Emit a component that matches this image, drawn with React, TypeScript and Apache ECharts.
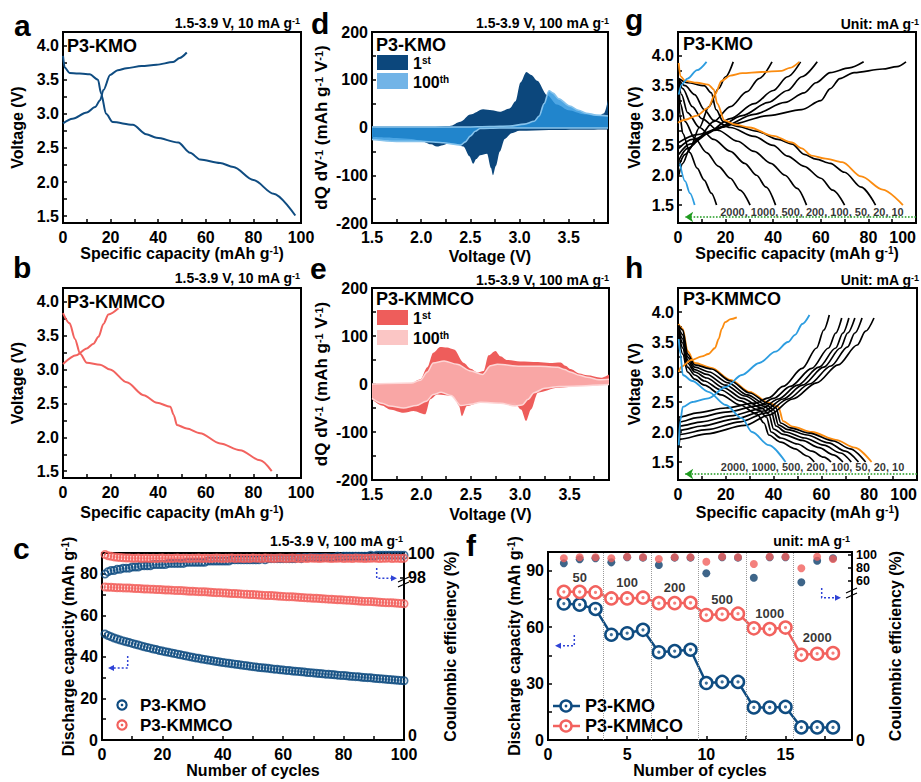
import React, { useEffect, useRef } from 'react';
import * as echarts from 'echarts';

const FONT = '"Liberation Sans", Arial, Helvetica, sans-serif';
const NAVY = '#0f4c81';
const RED = '#f2625e';
const ORANGE = '#fb8c10';
const SKY = '#2d9de0';
const GREEN = '#1f9a1f';
const ARROW_BLUE = '#2f43d6';

// ---------------- Panel a / b : first cycle profiles [capacity, voltage]
const aCharge = [[0,2.86],[4,2.93],[10,3.02],[13.5,3.1],[15.6,3.2],[17,3.35],[19.8,3.57],[23,3.64],[26.7,3.67],[33,3.7],[39.3,3.72],[46.3,3.76],[49,3.82],[52,3.9]];
const aDischarge = [[0,3.85],[0.7,3.68],[2.8,3.6],[11.2,3.58],[14.7,3.5],[16,3.3],[18.1,3.0],[20.9,2.88],[29.3,2.84],[35,2.7],[39.3,2.65],[48.4,2.58],[53.4,2.43],[57.6,2.33],[66,2.28],[71.6,2.22],[80,2.03],[88.5,1.83],[97.6,1.51]];
const bCharge = [[0,3.08],[5.6,3.21],[10,3.31],[12.8,3.38],[14.9,3.48],[17,3.67],[19.1,3.81],[23.3,3.9]];
const bDischarge = [[0,3.83],[2.8,3.68],[5,3.45],[7.2,3.23],[10,3.1],[15.6,3.07],[19.8,3.0],[26.8,2.81],[33.9,2.62],[39.5,2.51],[45.1,2.45],[46.5,2.33],[47.9,2.18],[52,2.13],[57.6,2.06],[66,1.91],[74.4,1.81],[82.8,1.66],[87.7,1.5]];

// ---------------- Panel c : cycling at 100 mA/g (cycle 1..100)
const cKMOCap = [51.0,50.3,49.7,49.1,48.6,48.1,47.7,47.3,46.9,46.5,46.1,45.7,45.3,44.9,44.5,44.2,43.8,43.5,43.1,42.8,42.5,42.2,41.9,41.6,41.3,41.0,40.7,40.4,40.1,39.8,39.5,39.3,39.0,38.8,38.5,38.3,38.0,37.8,37.5,37.3,37.1,36.9,36.7,36.5,36.3,36.1,35.9,35.7,35.5,35.3,35.1,34.9,34.8,34.6,34.5,34.3,34.1,34.0,33.8,33.7,33.5,33.4,33.2,33.1,33.0,32.8,32.7,32.5,32.4,32.3,32.1,32.0,31.9,31.7,31.6,31.5,31.4,31.2,31.1,31.0,30.9,30.7,30.6,30.5,30.4,30.2,30.1,30.0,29.9,29.7,29.6,29.5,29.4,29.2,29.1,29.0,28.9,28.7,28.6,28.5];
const cKMMCOCap = [73.6,73.5,73.5,73.4,73.3,73.3,73.2,73.1,73.1,73.0,72.9,72.9,72.8,72.7,72.7,72.6,72.5,72.4,72.4,72.3,72.2,72.2,72.1,72.0,71.9,71.9,71.8,71.7,71.6,71.6,71.5,71.4,71.3,71.3,71.2,71.1,71.0,70.9,70.9,70.8,70.7,70.6,70.5,70.5,70.4,70.3,70.2,70.1,70.0,70.0,69.9,69.8,69.7,69.6,69.5,69.5,69.4,69.3,69.2,69.1,69.0,68.9,68.9,68.8,68.7,68.6,68.5,68.4,68.3,68.2,68.2,68.1,68.0,67.9,67.8,67.7,67.6,67.5,67.5,67.4,67.3,67.2,67.1,67.0,66.9,66.8,66.7,66.7,66.6,66.5,66.4,66.3,66.2,66.1,66.0,66.0,65.9,65.8,65.7,65.6];
const cKMOCE = [98.3,98.5,98.6,98.6,98.7,98.7,98.8,98.8,98.8,98.9,98.9,98.9,99.0,99.0,99.0,99.0,99.1,99.1,99.1,99.1,99.1,99.2,99.2,99.2,99.2,99.2,99.2,99.3,99.3,99.3,99.3,99.3,99.3,99.3,99.4,99.4,99.4,99.4,99.4,99.4,99.4,99.4,99.5,99.5,99.5,99.5,99.5,99.5,99.5,99.5,99.5,99.5,99.6,99.5,99.6,99.6,99.6,99.6,99.6,99.6,99.6,99.6,99.6,99.6,99.7,99.6,99.7,99.7,99.7,99.7,99.7,99.7,99.7,99.7,99.7,99.7,99.7,99.8,99.7,99.8,99.8,99.8,99.8,99.8,99.8,99.8,99.8,99.8,99.9,99.8,99.9,99.9,99.9,99.9,99.9,99.9,99.9,99.9,99.9,99.9];
const cKMMCOCE = [99.95,99.85,99.8,99.75,99.72,99.7,99.68,99.66,99.65,99.64,99.63,99.65,99.62,99.64,99.63,99.61,99.64,99.62,99.63,99.65,99.62,99.64,99.61,99.63,99.65,99.62,99.64,99.63,99.61,99.64,99.63,99.65,99.62,99.64,99.63,99.62,99.64,99.65,99.63,99.62,99.64,99.63,99.65,99.62,99.64,99.63,99.61,99.64,99.62,99.65,99.63,99.64,99.62,99.65,99.63,99.64,99.62,99.63,99.65,99.64,99.62,99.63,99.65,99.64,99.62,99.63,99.64,99.62,99.65,99.63,99.64,99.62,99.63,99.65,99.64,99.62,99.63,99.64,99.65,99.62,99.63,99.64,99.62,99.65,99.63,99.64,99.62,99.63,99.64,99.65,99.63,99.62,99.64,99.63,99.65,99.62,99.64,99.63,99.62,99.64];

// ---------------- Panel d / e : dQ/dV [voltage, dQ/dV]
const d1stPos = [[1.5,2],[1.8,2],[2.1,2],[2.29,3],[2.4,12],[2.5,27],[2.63,38],[2.72,36],[2.8,33],[2.9,40],[2.96,55],[3.01,94],[3.07,116],[3.12,110],[3.18,98],[3.28,68],[3.38,48],[3.5,36],[3.65,28],[3.8,24],[3.86,30],[3.9,58]];
const d1stNeg = [[1.5,-20],[1.75,-22],[1.9,-24],[1.99,-27],[2.1,-35],[2.16,-40],[2.22,-37],[2.29,-32],[2.36,-34],[2.43,-40],[2.49,-60],[2.53,-76],[2.56,-66],[2.6,-58],[2.67,-55],[2.71,-85],[2.73,-100],[2.76,-80],[2.8,-50],[2.85,-24],[2.92,-12],[3.0,-7],[3.3,-5],[3.9,-4]];
const d100Pos = [[1.5,1],[2.0,1],[2.45,1],[2.7,2],[2.9,3],[3.05,7],[3.15,13],[3.2,24],[3.25,50],[3.3,77],[3.34,72],[3.4,60],[3.51,45],[3.6,36],[3.68,30],[3.78,26],[3.9,24]];
const d100Neg = [[1.5,-25],[1.75,-29],[2.0,-29],[2.15,-31],[2.23,-32],[2.33,-35],[2.4,-37],[2.45,-30],[2.5,-18],[2.55,-8],[2.6,-2],[2.8,-1],[3.9,-1]];
const e1stPos = [[1.5,0],[1.89,1],[1.99,10],[2.06,35],[2.12,65],[2.19,77],[2.26,76],[2.33,72],[2.43,44],[2.5,32],[2.57,24],[2.63,27],[2.68,60],[2.75,69],[2.8,58],[2.87,50],[3.0,47],[3.18,46],[3.3,44],[3.41,45],[3.46,38],[3.51,31],[3.6,22],[3.68,18],[3.82,13],[3.9,20]];
const e100Pos = [[1.5,0],[1.9,2],[1.99,8],[2.06,25],[2.12,44],[2.23,48],[2.36,41],[2.5,27],[2.62,20],[2.7,38],[2.77,41],[3.0,37],[3.2,37],[3.38,35],[3.45,30],[3.51,25],[3.6,18],[3.68,14],[3.8,9],[3.9,10]];
const e1stNeg = [[1.5,-32],[1.6,-45],[1.68,-53],[1.82,-60],[1.92,-56],[2.04,-63],[2.09,-32],[2.16,-22],[2.33,-25],[2.38,-45],[2.41,-67],[2.46,-46],[2.6,-38],[2.94,-39],[3.01,-53],[3.06,-77],[3.11,-53],[3.18,-18],[3.38,-8],[3.6,-4],[3.9,-1]];
const e100Neg = [[1.5,-30],[1.6,-40],[1.68,-46],[1.82,-50],[1.95,-45],[2.05,-36],[2.12,-22],[2.2,-17],[2.3,-24],[2.4,-45],[2.5,-42],[2.6,-38],[2.8,-40],[2.95,-46],[3.02,-44],[3.08,-32],[3.14,-18],[3.25,-9],[3.4,-5],[3.9,-1]];

// ---------------- Panel f : rate capability
const fCycles = [1,2,3,4,5,6,7,8,9,10,11,12,13,14,15,16,17,18];
const fKMOCap = [72.6,72.0,69.7,56.0,56.8,58.6,46.7,47.3,48.0,30.3,30.9,30.9,17.3,17.3,17.6,6.7,6.7,6.7];
const fKMMCOCap = [78.8,78.8,78.5,75.3,75.3,75.7,72.8,72.8,73.0,66.5,66.9,67.2,59.4,59.0,59.8,45.3,45.9,46.2];
const fKMOCE = [87.2,93.4,94.9,88.7,96.4,95.9,84.6,95.9,95.9,71.8,96.4,95.9,65.1,96.4,96.4,58.0,91.2,94.9];
const fKMMCOCE = [94.9,96.4,96.4,94.9,97.4,96.4,93.8,96.4,96.4,89.7,97.4,96.4,86.2,97.4,97.4,79.5,97.4,93.8];
const fRateBoundaries = [3.5,6.5,9.5,12.5,15.5];
const fRateNames = ['50','100','200','500','1000','2000'];
const fRateLabelPos = [[2,86.2],[5,83.6],[8,81],[11,74.6],[14,67.2],[17,54.5]];

// ---------------- Panel g : P3-KMO rate profiles [capacity, voltage]
const gOrangeCharge = [[0,2.88],[3,2.93],[8,3.0],[12.7,3.13],[15.5,3.35],[18.3,3.58],[22,3.67],[27,3.71],[35,3.73],[43.6,3.75],[47,3.8],[51,3.9]];
const gOrangeDischarge = [[0.3,3.88],[1,3.66],[3,3.58],[8,3.55],[12.7,3.52],[15,3.44],[16.5,3.2],[19.5,2.92],[24,2.85],[30,2.8],[40,2.66],[47.8,2.55],[52,2.45],[56,2.33],[62,2.28],[69,2.22],[77,1.98],[86,1.76],[94.5,1.5]];
const gBlueCharge = [[0.3,3.35],[1.5,3.52],[4,3.62],[8,3.76],[12,3.9]];
const gBlueDischarge = [[0.8,2.2],[3,1.9],[5,1.7],[7,1.5]];
const gBlackCharge = [
  [[0.3,2.0],[2,2.2],[5,2.45],[9,2.8],[13,3.15],[17,3.45],[20,3.65],[23.2,3.9]],
  [[0.3,2.15],[3,2.35],[8,2.6],[15,2.9],[22,3.15],[29,3.4],[34,3.62],[39.5,3.9]],
  [[0.3,2.25],[4,2.45],[12,2.7],[22,2.95],[32,3.2],[40,3.42],[46,3.65],[51.5,3.9]],
  [[0.3,2.35],[5,2.52],[15,2.75],[27,3.0],[38,3.22],[46,3.42],[52,3.65],[58.5,3.9]],
  [[0.3,2.45],[6,2.6],[18,2.8],[32,3.02],[45,3.22],[53,3.38],[58,3.55],[64,3.72],[72,3.8],[78,3.9]],
  [[0.3,2.55],[8,2.68],[22,2.85],[38,3.0],[52,3.1],[60,3.25],[64,3.45],[68,3.62],[74,3.72],[86,3.78],[92,3.82],[95.8,3.9]],
];
const gBlackDischarge = [
  [[0.2,3.5],[0.8,3.0],[2,2.7],[5,2.38],[8,2.12],[11,1.92],[14,1.7],[16.2,1.5]],
  [[0.2,3.55],[1,3.2],[3,2.9],[7,2.62],[12,2.38],[17,2.15],[22,1.95],[26,1.75],[30.3,1.5]],
  [[0.2,3.58],[1.5,3.35],[4,3.05],[9,2.8],[15,2.6],[22,2.4],[28,2.2],[33,2.0],[37,1.8],[41,1.5]],
  [[0.3,3.6],[2,3.45],[6,3.15],[10,2.95],[17,2.75],[25,2.57],[32,2.4],[39,2.2],[45,2.0],[50,1.78],[54,1.5]],
  [[0.3,3.6],[3,3.5],[7,3.35],[11,3.1],[15,2.92],[22,2.8],[32,2.65],[40,2.5],[46,2.32],[53,2.15],[60,1.95],[65,1.75],[70,1.5]],
  [[0.3,3.62],[4,3.55],[11,3.5],[14,3.38],[16,3.1],[19,2.9],[25,2.82],[33,2.74],[42,2.6],[48,2.52],[53,2.35],[58,2.27],[64,2.2],[70,2.05],[77,1.8],[83,1.5]],
];

// ---------------- Panel h : P3-KMMCO rate profiles
const hOrangeCharge = [[0.3,3.0],[1.4,3.09],[5.6,3.2],[10,3.26],[12.7,3.3],[15.5,3.4],[17,3.55],[18.3,3.72],[19.7,3.83],[22,3.88],[24.6,3.91]];
const hOrangeDischarge = [[0.2,3.8],[2,3.72],[4,3.35],[7,3.15],[14,3.07],[22,2.87],[30,2.67],[38,2.49],[42,2.42],[44,2.18],[48,2.09],[56,2.0],[66,1.87],[74,1.74],[81,1.5]];
const hBlueCharge = [[0.3,1.78],[1,2.2],[2,2.42],[6,2.5],[12.7,2.56],[20,2.75],[26.7,2.95],[34,3.15],[40.8,3.34],[46,3.5],[49,3.62],[52,3.8],[55,3.95]];
const hBlueDischarge = [[0.3,3.55],[1,3.3],[2,2.95],[6,2.85],[12.7,2.67],[20,2.45],[26.7,2.23],[31,2.0],[38,1.78],[45,1.5]];
const hBlackCharge = [
  [[0.3,1.8],[0.8,2.25],[8,2.32],[20,2.4],[32,2.48],[38,2.57],[44,2.76],[52,3.06],[58,3.4],[61,3.7],[63.3,3.95]],
  [[0.3,1.8],[0.8,2.17],[8,2.24],[20,2.33],[34,2.44],[40,2.56],[47,2.76],[56,3.06],[63,3.4],[66,3.65],[68.5,3.9]],
  [[0.3,1.8],[0.8,2.1],[10,2.17],[22,2.27],[35,2.39],[42,2.55],[50,2.78],[59,3.08],[66,3.4],[69,3.65],[71.5,3.9]],
  [[0.3,1.78],[0.8,2.03],[10,2.1],[24,2.22],[36,2.35],[44,2.55],[52,2.78],[61,3.08],[68,3.4],[71,3.65],[74,3.9]],
  [[0.3,1.76],[0.8,1.96],[12,2.04],[26,2.17],[37,2.32],[46,2.55],[55,2.8],[64,3.1],[71,3.42],[74,3.65],[77,3.9]],
  [[0.3,1.75],[0.8,1.88],[12,1.97],[28,2.11],[38,2.28],[48,2.55],[58,2.82],[67,3.12],[75,3.45],[78.5,3.68],[82,3.9]],
];
const hBlackDischarge = [
  [[0.2,3.6],[2,3.3],[4,3.0],[7,2.88],[11,2.78],[18,2.62],[26,2.45],[33,2.3],[36,2.15],[38,1.95],[43,1.83],[49,1.72],[54,1.6],[57,1.5]],
  [[0.2,3.65],[2,3.4],[4,3.08],[7,2.95],[11,2.85],[18,2.7],[26,2.52],[34,2.36],[37,2.25],[39,2.0],[43,1.9],[50,1.8],[56,1.68],[61,1.58],[64,1.5]],
  [[0.2,3.7],[2,3.48],[4,3.15],[7,3.0],[12,2.9],[19,2.74],[27,2.56],[35,2.4],[38,2.3],[40,2.05],[44,1.96],[52,1.86],[59,1.74],[65,1.62],[69,1.5]],
  [[0.2,3.72],[2,3.55],[4,3.2],[7,3.04],[12,2.96],[20,2.78],[28,2.6],[36,2.43],[39,2.35],[41,2.1],[45,2.0],[53,1.9],[61,1.78],[68,1.65],[72.5,1.5]],
  [[0.2,3.75],[2,3.62],[4,3.25],[7,3.08],[13,3.0],[21,2.82],[29,2.62],[37,2.45],[40,2.37],[42,2.12],[46,2.04],[54,1.95],[63,1.82],[70,1.68],[75.5,1.5]],
  [[0.2,3.78],[2,3.7],[4,3.3],[7,3.12],[14,3.05],[22,2.85],[30,2.65],[38,2.47],[41,2.4],[43,2.15],[47,2.07],[55,1.98],[65,1.85],[72,1.72],[78.5,1.5]],
];
const rateListText = '2000, 1000, 500, 200, 100, 50, 20, 10';
const gRateTextPos = [56.3, 1.38];
const hRateTextPos = [56.3, 1.42];
const arrowCap = [100, 3];
const arrowV = 1.3;

// ---------------- tick labels
const capLabels = [0,20,40,60,80,100];
const capTicks = [0,10,20,30,40,50,60,70,80,90,100];
const vLabels = [1.5,2.0,2.5,3.0,3.5,4.0];
const vTicks = [1.5,1.75,2.0,2.25,2.5,2.75,3.0,3.25,3.5,3.75,4.0];
const dvLabels = [1.5,2.0,2.5,3.0,3.5];
const dvTicks = [1.5,1.75,2.0,2.25,2.5,2.75,3.0,3.25,3.5,3.75];
const dqLabels = [-200,-100,0,100,200];
const dqTicks = [-200,-150,-100,-50,0,50,100,150,200];
const cycLabelsC = [0,20,40,60,80,100];
const capLabelsC = [0,20,40,60,80];
const ceLabelsC = [84.72,98,100];
const ceTicksC = [84.3,98,100];
const cycLabelsF = [0,5,10,15];
const capLabelsF = [0,30,60,90];
const ceLabelsF = [-184.6,60,80,100];

const RING = 'path://M0,-10A10,10,0,1,0,0,10A10,10,0,1,0,0,-10ZM0,-6.2A6.2,6.2,0,1,1,0,6.2A6.2,6.2,0,1,1,0,-6.2ZM0,-2.4A2.4,2.4,0,1,0,0,2.4A2.4,2.4,0,1,0,0,-2.4Z';

const TXT = { fontFamily: FONT, fontWeight: 'bold', color: '#000' };
const richName = (fs: number) => ({
  ...TXT, fontSize: fs,
  rich: { b: { ...TXT, fontSize: fs }, s: { ...TXT, fontSize: Math.round(fs * 0.62), verticalAlign: 'top' } },
});
const fmt1 = (v: number) => v.toFixed(1);
const fmt0 = (v: number) => String(Math.round(v));

function xAx(grid: number, min: number, max: number, labels: number[], ticks: number[], fmt: any, name: string, gap: number, extra: any = {}) {
  return {
    type: 'value', gridIndex: grid, min, max, name, nameLocation: 'middle', nameGap: gap, nameTextStyle: richName(16),
    axisLine: { show: true, onZero: false, lineStyle: { color: '#000', width: 2 } },
    axisTick: { show: true, inside: true, length: 4, customValues: ticks, lineStyle: { color: '#000', width: 1.5 } },
    axisLabel: { customValues: labels, formatter: fmt, ...TXT, fontSize: 16, margin: 6, ...extra },
    splitLine: { show: false },
  };
}
function yAx(grid: number, min: number, max: number, labels: number[], ticks: number[], fmt: any, name: string, gap: number, pos = 'left', nameSize = 16, labelSize = 16) {
  return {
    type: 'value', gridIndex: grid, min, max, position: pos, name, nameLocation: 'middle', nameGap: gap, nameRotate: 90, nameTextStyle: richName(nameSize),
    axisLine: { show: true, onZero: false, lineStyle: { color: '#000', width: 2 } },
    axisTick: { show: true, inside: true, length: 4, customValues: ticks, lineStyle: { color: '#000', width: 1.5 } },
    axisLabel: {
      customValues: labels, formatter: fmt, ...TXT, fontSize: labelSize, margin: 4, hideOverlap: false,
      rich: { big: { ...TXT, fontSize: 16 } },
    },
    splitLine: { show: false },
  };
}

const CAP_NAME = '{b|Specific capacity (mAh g}{s|-1}{b|)}';
const DQ_NAME = '{b|dQ dV}{s|-1}{b| (mAh g}{s|-1}{b| V}{s|-1}{b|)}';

function line(ax: number, data: any, color: string, width = 1.8) {
  return { type: 'line', xAxisIndex: ax, yAxisIndex: ax, data, symbol: 'none', smooth: 0.3, smoothMonotone: 'x', lineStyle: { color, width }, silent: true };
}
function area(ax: number, data: any, fill: string, opacity: number, lineColor: string | null, lw = 0) {
  return {
    type: 'line', xAxisIndex: ax, yAxisIndex: ax, data, symbol: 'none', smooth: 0.3, smoothMonotone: 'x', silent: true,
    lineStyle: { color: lineColor || fill, width: lw },
    areaStyle: { color: fill, opacity },
  };
}

function rt(text: string, x: number, y: number, size: number, align = 'left') {
  return {
    type: 'text', x, y, silent: true,
    style: {
      text, align, verticalAlign: 'middle', font: `bold ${size}px ${FONT}`, fill: '#000',
      rich: {
        b: { fontFamily: FONT, fontWeight: 'bold', fontSize: size, fill: '#000' },
        s: { fontFamily: FONT, fontWeight: 'bold', fontSize: Math.round(size * 0.64), fill: '#000', verticalAlign: 'top' },
      },
    },
  };
}
function dashedArrow(pts: number[][], head: number[][]) {
  return [
    { type: 'polyline', silent: true, shape: { points: pts }, style: { stroke: ARROW_BLUE, lineWidth: 1.5, lineDash: [2, 2], fill: null } },
    { type: 'polygon', silent: true, shape: { points: head }, style: { fill: ARROW_BLUE } },
  ];
}

function buildOption() {
  const grids = [
    { left: 63, top: 32, width: 238, height: 191 },
    { left: 63, top: 288, width: 238, height: 190 },
    { left: 102, top: 553, width: 302, height: 187 },
    { left: 372, top: 32, width: 236, height: 191 },
    { left: 372, top: 288, width: 237, height: 192 },
    { left: 548, top: 552, width: 304, height: 188 },
    { left: 678, top: 32, width: 238, height: 191 },
    { left: 678, top: 288, width: 239, height: 192 },
  ].map((g) => ({ ...g, show: true, borderColor: '#000', borderWidth: 2, backgroundColor: 'rgba(0,0,0,0)' }));

  const xAxis = [
    xAx(0, 0, 100, capLabels, capTicks, fmt0, CAP_NAME, 21),
    xAx(1, 0, 100, capLabels, capTicks, fmt0, CAP_NAME, 26),
    xAx(2, 0, 100, cycLabelsC, capTicks, fmt0, '{b|Number of cycles}', 21),
    xAx(3, 1.5, 3.9, dvLabels, dvTicks, fmt1, '{b|Voltage (V)}', 25),
    xAx(4, 1.5, 3.9, dvLabels, dvTicks, fmt1, '{b|Voltage (V)}', 26),
    xAx(5, 0, 19.2, cycLabelsF, [0, 2.5, 5, 7.5, 10, 12.5, 15, 17.5], fmt0, '{b|Number of cycles}', 21),
    xAx(6, 0, 100, capLabels, capTicks, fmt0, CAP_NAME, 21, { alignMaxLabel: 'right' }),
    xAx(7, 0, 100, capLabels, capTicks, fmt0, CAP_NAME, 24, { alignMaxLabel: 'right' }),
  ];
  const yAxis = [
    yAx(0, 1.4, 4.2, vLabels, vTicks, fmt1, '{b|Voltage (V)}', 38),
    yAx(1, 1.4, 4.2, vLabels, vTicks, fmt1, '{b|Voltage (V)}', 38),
    yAx(2, 0, 90, capLabelsC, [0, 10, 20, 30, 40, 50, 60, 70, 80], fmt0, '{b|Discharge capacity (mAh g}{s|-1}{b|)}', 24),
    yAx(3, -200, 200, dqLabels, dqTicks, fmt0, DQ_NAME, 42, 'left', 17),
    yAx(4, -200, 200, dqLabels, dqTicks, fmt0, DQ_NAME, 42, 'left', 17),
    yAx(5, 0, 100, capLabelsF, [0, 15, 30, 45, 60, 75, 90], fmt0, '{b|Discharge capacity (mAh g}{s|-1}{b|)}', 23),
    yAx(6, 1.2, 4.4, vLabels, vTicks, fmt1, '{b|Voltage (V)}', 36),
    yAx(7, 1.2, 4.4, vLabels, vTicks, fmt1, '{b|Voltage (V)}', 36),
    yAx(2, 84.3, 100.08, ceLabelsC, ceTicksC, (v: number) => (v < 90 ? '0' : fmt0(v)), '{b|Coulombic efficiency (%)}', 38, 'right'),
    yAx(5, -184.6, 104.6, ceLabelsF, ceLabelsF, (v: number) => (v < 0 ? '{big|0}' : fmt0(v)), '{b|Coulombic efficiency (%)}', 35, 'right', 16, 12.5),
  ];

  const series: any[] = [];
  // a, b
  series.push(line(0, aCharge, NAVY, 2), line(0, aDischarge, NAVY, 2));
  series.push(line(1, bCharge, RED, 2), line(1, bDischarge, RED, 2));
  // c
  const idx = (arr: number[]) => arr.map((v, i) => [i + 1, v]);
  const ringScatter = (yi: number, arr: number[], color: string) => ({
    type: 'scatter', xAxisIndex: 2, yAxisIndex: yi, data: idx(arr), symbol: RING, symbolSize: 9, itemStyle: { color }, silent: true,
  });
  series.push(ringScatter(2, cKMOCap, NAVY), ringScatter(2, cKMMCOCap, RED), ringScatter(8, cKMOCE, NAVY), ringScatter(8, cKMMCOCE, RED));
  // d
  series.push(area(3, d1stPos, '#0c477c', 1, null), area(3, d1stNeg, '#0c477c', 1, null));
  series.push(area(3, d100Pos, 'rgb(38,146,222)', 0.82, '#86c3ec', 1.6), area(3, d100Neg, 'rgb(38,146,222)', 0.82, '#86c3ec', 1.6));
  // e
  series.push(area(4, e1stPos, '#ee5d5b', 1, null), area(4, e1stNeg, '#ee5d5b', 1, null));
  series.push(area(4, e100Pos, '#f9aaa9', 0.96, '#fdd6d6', 1.5), area(4, e100Neg, '#f9aaa9', 0.96, '#fdd6d6', 1.5));
  // f
  const fPairs = (arr: number[]) => arr.map((v, i) => [fCycles[i], v]);
  series.push({
    type: 'scatter', xAxisIndex: 5, yAxisIndex: 9, data: fPairs(fKMOCE), symbol: 'circle', symbolSize: 8, itemStyle: { color: '#0e3f6c' }, silent: true,
    markLine: {
      silent: true, symbol: 'none', label: { show: false },
      lineStyle: { color: '#9a9a9a', type: 'dotted', width: 1 },
      data: fRateBoundaries.map((x) => ({ xAxis: x })),
    },
  });
  series.push({ type: 'scatter', xAxisIndex: 5, yAxisIndex: 9, data: fPairs(fKMMCOCE), symbol: 'circle', symbolSize: 8, itemStyle: { color: '#f1605c' }, silent: true });
  const capLine = (arr: number[], color: string) => ({
    type: 'line', xAxisIndex: 5, yAxisIndex: 5, data: fPairs(arr), symbol: 'circle', symbolSize: 12, showSymbol: true,
    lineStyle: { color, width: 2.5 }, itemStyle: { color: '#fff', borderColor: color, borderWidth: 2.5 }, silent: true,
  });
  const capDots = (arr: number[], color: string) => ({
    type: 'scatter', xAxisIndex: 5, yAxisIndex: 5, data: fPairs(arr), symbol: 'circle', symbolSize: 3.2, itemStyle: { color }, silent: true, z: 3,
  });
  series.push(capLine(fKMOCap, NAVY), capDots(fKMOCap, NAVY), capLine(fKMMCOCap, RED), capDots(fKMMCOCap, RED));
  series.push({
    type: 'scatter', xAxisIndex: 5, yAxisIndex: 5, symbolSize: 1, itemStyle: { color: 'rgba(0,0,0,0)' }, silent: true,
    data: fRateNames.map((n, i) => ({ name: n, value: fRateLabelPos[i] })),
    label: { show: true, position: 'inside', formatter: '{b}', ...TXT, fontSize: 13 },
  });
  // g, h
  const rateBlock = (ax: number, bc: any[], bd: any[], oc: any, od: any, sc: any, sd: any, textPos: number[], orangeUnder: boolean) => {
    if (orangeUnder) series.push(line(ax, od, ORANGE, 1.8));
    bc.forEach((c) => series.push(line(ax, c, '#000', 1.7)));
    bd.forEach((c) => series.push(line(ax, c, '#000', 1.7)));
    series.push({
      ...line(ax, oc, ORANGE, 1.8),
      markLine: {
        silent: true, symbol: ['none', 'arrow'], symbolSize: 8, label: { show: false },
        lineStyle: { color: GREEN, type: 'dotted', width: 1.6 },
        data: [[{ coord: [arrowCap[0], arrowV] }, { coord: [arrowCap[1], arrowV] }]],
      },
    });
    if (!orangeUnder) series.push(line(ax, od, ORANGE, 1.8));
    series.push(line(ax, sc, SKY, 1.8), line(ax, sd, SKY, 1.8));
    series.push({
      type: 'scatter', xAxisIndex: ax, yAxisIndex: ax, symbolSize: 1, itemStyle: { color: 'rgba(0,0,0,0)' }, silent: true,
      data: [{ name: rateListText, value: textPos }],
      label: { show: true, position: 'inside', formatter: '{b}', ...TXT, fontSize: 11 },
    });
  };
  rateBlock(6, gBlackCharge, gBlackDischarge, gOrangeCharge, gOrangeDischarge, gBlueCharge, gBlueDischarge, gRateTextPos, false);
  rateBlock(7, hBlackCharge, hBlackDischarge, hOrangeCharge, hOrangeDischarge, hBlueCharge, hBlueDischarge, hRateTextPos, true);

  const letters: any[] = [['a', 14, 25], ['b', 13, 267], ['c', 13, 548], ['d', 311, 23], ['e', 310, 268], ['f', 466, 545], ['g', 625, 19], ['h', 625, 267]];
  const graphic: any[] = [
    ...letters.map(([t, x, y]) => ({ type: 'text', x, y, silent: true, style: { text: t, font: `bold 30px ${FONT}`, fill: '#000', verticalAlign: 'middle' } })),
    rt('{b|1.5-3.9 V, 10 mA g}{s|-1}', 300, 23, 14, 'right'),
    rt('{b|1.5-3.9 V, 10 mA g}{s|-1}', 300, 278, 14, 'right'),
    rt('{b|1.5-3.9 V, 100 mA g}{s|-1}', 403, 541, 14, 'right'),
    rt('{b|1.5-3.9 V, 100 mA g}{s|-1}', 609, 23, 14, 'right'),
    rt('{b|1.5-3.9 V, 100 mA g}{s|-1}', 609, 280, 14, 'right'),
    rt('{b|unit: mA g}{s|-1}', 850, 541, 14, 'right'),
    rt('{b|Unit: mA g}{s|-1}', 919, 24, 14, 'right'),
    rt('{b|Unit: mA g}{s|-1}', 919, 280, 14, 'right'),
    rt('{b|P3-KMO}', 67, 46, 18),
    rt('{b|P3-KMMCO}', 67, 302, 18),
    rt('{b|P3-KMO}', 376, 45, 18),
    rt('{b|P3-KMMCO}', 376, 299, 18),
    rt('{b|P3-KMO}', 683, 44, 18),
    rt('{b|P3-KMMCO}', 683, 299, 18),
    // d/e legends
    { type: 'rect', silent: true, shape: { x: 377, y: 55, width: 31, height: 15 }, style: { fill: '#0c477c' } },
    { type: 'rect', silent: true, shape: { x: 377, y: 73, width: 31, height: 16 }, style: { fill: '#72b4e7' } },
    rt('{b|1}{s|st}', 413, 63, 16),
    rt('{b|100}{s|th}', 413, 82, 16),
    { type: 'rect', silent: true, shape: { x: 377, y: 310, width: 31, height: 15 }, style: { fill: '#ee5d5b' } },
    { type: 'rect', silent: true, shape: { x: 377, y: 330, width: 31, height: 15 }, style: { fill: '#fbc6c5' } },
    rt('{b|1}{s|st}', 413, 318, 16),
    rt('{b|100}{s|th}', 413, 338, 16),
    // c legend
    { type: 'circle', silent: true, shape: { cx: 122, cy: 705, r: 4.6 }, style: { fill: '#fff', stroke: NAVY, lineWidth: 2.2 } },
    { type: 'circle', silent: true, shape: { cx: 122, cy: 705, r: 1.3 }, style: { fill: NAVY } },
    { type: 'circle', silent: true, shape: { cx: 122, cy: 725, r: 4.6 }, style: { fill: '#fff', stroke: RED, lineWidth: 2.2 } },
    { type: 'circle', silent: true, shape: { cx: 122, cy: 725, r: 1.3 }, style: { fill: RED } },
    rt('{b|P3-KMO}', 140, 705, 17),
    rt('{b|P3-KMMCO}', 140, 725, 17),
    // f legend
    { type: 'line', silent: true, shape: { x1: 553, y1: 706, x2: 580, y2: 706 }, style: { stroke: NAVY, lineWidth: 2.5 } },
    { type: 'circle', silent: true, shape: { cx: 566, cy: 706, r: 5.5 }, style: { fill: '#fff', stroke: NAVY, lineWidth: 2.5 } },
    { type: 'circle', silent: true, shape: { cx: 566, cy: 706, r: 1.4 }, style: { fill: NAVY } },
    { type: 'line', silent: true, shape: { x1: 553, y1: 726, x2: 580, y2: 726 }, style: { stroke: RED, lineWidth: 2.5 } },
    { type: 'circle', silent: true, shape: { cx: 566, cy: 726, r: 5.5 }, style: { fill: '#fff', stroke: RED, lineWidth: 2.5 } },
    { type: 'circle', silent: true, shape: { cx: 566, cy: 726, r: 1.4 }, style: { fill: RED } },
    rt('{b|P3-KMO}', 585, 706, 18),
    rt('{b|P3-KMMCO}', 585, 726, 18),
    // dashed arrows
    ...dashedArrow([[127.7, 656], [127.7, 668], [114, 668]], [[108, 668], [114, 665], [114, 671]]),
    ...dashedArrow([[376.7, 568], [376.7, 578.3], [391, 578.3]], [[397, 578.3], [391, 575.3], [391, 581.3]]),
    ...dashedArrow([[574.3, 635], [574.3, 645.7], [561, 645.7]], [[555, 645.7], [561, 642.7], [561, 648.7]]),
    ...dashedArrow([[821.7, 588], [821.7, 597.7], [835, 597.7]], [[841, 597.7], [835, 594.7], [835, 600.7]]),
    // axis breaks
    { type: 'rect', silent: true, shape: { x: 401, y: 580, width: 6, height: 4 }, style: { fill: '#fff' } },
    { type: 'line', silent: true, shape: { x1: 398, y1: 582, x2: 409, y2: 577 }, style: { stroke: '#000', lineWidth: 1.3 } },
    { type: 'line', silent: true, shape: { x1: 398, y1: 587, x2: 409, y2: 582 }, style: { stroke: '#000', lineWidth: 1.3 } },
    { type: 'rect', silent: true, shape: { x: 849, y: 591, width: 6, height: 4 }, style: { fill: '#fff' } },
    { type: 'line', silent: true, shape: { x1: 846, y1: 593, x2: 857, y2: 588 }, style: { stroke: '#000', lineWidth: 1.3 } },
    { type: 'line', silent: true, shape: { x1: 846, y1: 598, x2: 857, y2: 593 }, style: { stroke: '#000', lineWidth: 1.3 } },
  ];

  return { animation: false, backgroundColor: '#fff', grid: grids, xAxis, yAxis, series, graphic };
}

export default function App() {
  const ref = useRef<HTMLDivElement>(null);
  useEffect(() => {
    if (!ref.current) return;
    const chart = echarts.init(ref.current, null, { renderer: 'svg', width: 921, height: 782 });
    chart.setOption(buildOption() as any);
    return () => chart.dispose();
  }, []);
  return <div ref={ref} style={{ position: 'absolute', left: 0, top: 0, width: 921, height: 782, background: '#fff' }} />;
}
